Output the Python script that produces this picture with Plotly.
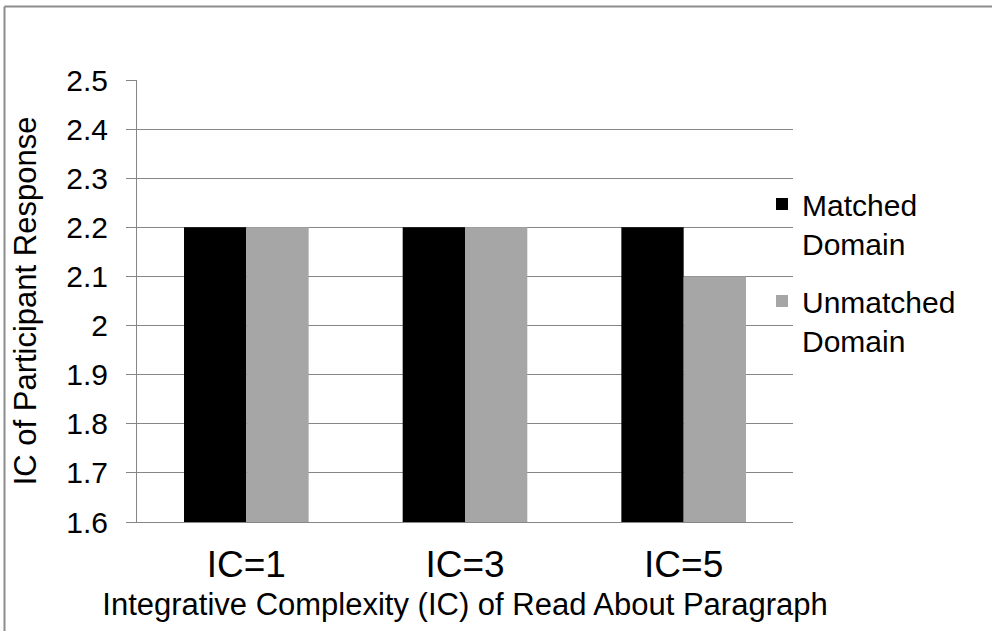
import plotly.graph_objects as go

# Mean integrative complexity of responses, by complexity of the paragraph read
categories = ["IC=1", "IC=3", "IC=5"]
matched_domain = [2.2, 2.2, 2.2]
unmatched_domain = [2.2, 2.2, 2.1]
series_names = ["Matched<br>Domain", "Unmatched<br>Domain"]

y_tick_values = [1.6, 1.7, 1.8, 1.9, 2.0, 2.1, 2.2, 2.3, 2.4, 2.5]
y_tick_labels = ["1.6", "1.7", "1.8", "1.9", "2", "2.1", "2.2", "2.3", "2.4", "2.5"]

FONT = "Liberation Sans, Arial, sans-serif"
GRID = "#868686"

W, H = 992, 631
ML, MR, MT, MB = 137, 199, 80, 109
PW, PH = W - ML - MR, H - MT - MB


def px_to_paper_x(px):
    return (px - ML) / PW


def px_to_paper_y(py):
    return 1 - (py - MT) / PH


fig = go.Figure()
fig.add_trace(go.Bar(
    x=categories, y=matched_domain, name=series_names[0],
    marker=dict(color="#000000", line=dict(width=0)),
    legendgroup="m",
))
fig.add_trace(go.Bar(
    x=categories, y=unmatched_domain, name=series_names[1],
    marker=dict(color="#A6A6A6", line=dict(width=0)),
    legendgroup="u",
))

# chart frame (top and left edges)
fig.add_shape(type="line", xref="paper", yref="paper",
              x0=px_to_paper_x(4.5), x1=px_to_paper_x(W + 2),
              y0=px_to_paper_y(6.5), y1=px_to_paper_y(6.5),
              line=dict(color="#8C8C8C", width=2))
fig.add_shape(type="line", xref="paper", yref="paper",
              x0=px_to_paper_x(4.5), x1=px_to_paper_x(4.5),
              y0=px_to_paper_y(6.5), y1=px_to_paper_y(H + 2),
              line=dict(color="#8C8C8C", width=2))

fig.update_layout(
    width=W, height=H,
    margin=dict(l=ML, r=MR, t=MT, b=MB, autoexpand=False),
    paper_bgcolor="white", plot_bgcolor="white",
    barmode="group", bargap=0.43, bargroupgap=0,
    font=dict(family=FONT, color="#000000"),
    showlegend=True,
    legend=dict(
        x=px_to_paper_x(762), xanchor="left",
        y=px_to_paper_y(178), yanchor="top",
        font=dict(family=FONT, size=30, color="#000000"),
        valign="top", tracegroupgap=16,
        bgcolor="rgba(0,0,0,0)", borderwidth=0,
    ),
    xaxis=dict(
        showgrid=False, showline=True, linecolor=GRID, linewidth=1,
        ticks="", tickfont=dict(family=FONT, size=37, color="#000000"),
        ticklabelstandoff=10,
        title=dict(text="Integrative Complexity (IC) of Read About Paragraph",
                   font=dict(family=FONT, size=31, color="#000000"),
                   standoff=8),
        automargin=False,
    ),
    yaxis=dict(
        range=[1.6, 2.5], tickvals=y_tick_values, ticktext=y_tick_labels,
        showgrid=True, gridcolor=GRID, gridwidth=1,
        showline=True, linecolor=GRID, linewidth=1,
        ticks="outside", ticklen=10, tickcolor=GRID, tickwidth=1,
        tickfont=dict(family=FONT, size=30, color="#000000"),
        ticklabelstandoff=12,
        zeroline=False,
        title=dict(text="IC of Participant Response",
                   font=dict(family=FONT, size=31, color="#000000"),
                   standoff=20),
        automargin=False,
    ),
)

fig.write_html("out.html")
